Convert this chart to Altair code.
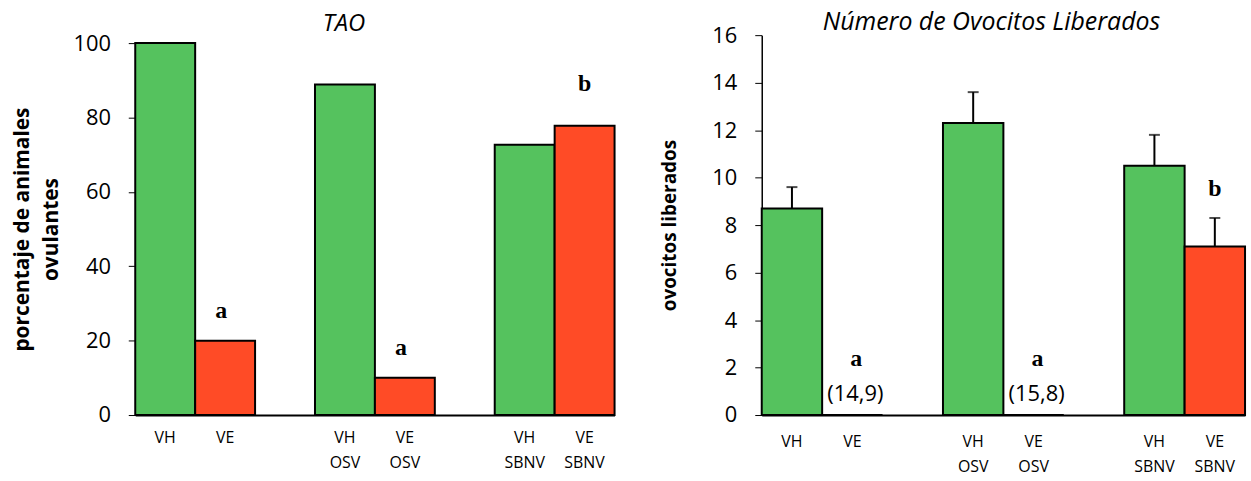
import altair as alt
import pandas as pd

# ---- data ----
slots = ["VH", "VE", " ", "VH|OSV", "VE|OSV", "  ", "VH|SBNV", "VE|SBNV"]
cats = ["VH", "VE", "VH|OSV", "VE|OSV", "VH|SBNV", "VE|SBNV"]
grupo = ["VH", "VE", "VH", "VE", "VH", "VE"]

tao_vals = [100, 20, 88.9, 10, 72.7, 77.8]
tao_letters = ["", "a", "", "a", "", "b"]

ovo_vals = [8.7, 0, 12.3, 0, 10.5, 7.1]
ovo_err = [0.9, None, 1.3, None, 1.3, 1.2]
ovo_letters = ["", "a", "", "a", "", "b"]
ovo_notes = ["", "(14,9)", "", "(15,8)", "", ""]

GREEN = "#55c25e"
RED = "#ff4b26"
FONT = "Open Sans"

tao = pd.DataFrame({"cat": cats, "grupo": grupo, "val": tao_vals, "letter": tao_letters})
ovo = pd.DataFrame({"cat": cats, "grupo": grupo, "val": ovo_vals, "err": ovo_err,
                    "letter": ovo_letters, "note": ovo_notes})
ovo["top"] = ovo["val"] + ovo["err"].fillna(0)

color = alt.Color("grupo:N", scale=alt.Scale(domain=["VH", "VE"], range=[GREEN, RED]), legend=None)


def xenc(pad):
    return alt.X("cat:N", sort=slots,
                 scale=alt.Scale(domain=slots, paddingInner=0, paddingOuter=0),
                 axis=alt.Axis(title=None, labelAngle=0, ticks=False, labelFontSize=16,
                               labelFont=FONT, labelColor="black", labelPadding=pad,
                               labelLineHeight=25, labelExpr="split(datum.label, '|')",
                               domainColor="black", domainWidth=2, labelBaseline="top"))


# ---- left panel ----
y_left = alt.Y("val:Q", scale=alt.Scale(domain=[0, 100], nice=False, rangeMax=8),
               axis=alt.Axis(values=[0, 20, 40, 60, 80, 100], grid=False, tickSize=7,
                             tickColor="black", domainColor="black", domainWidth=1.5,
                             labelFontSize=22, labelFont=FONT, labelColor="black",
                             labelPadding=18,
                             title=["porcentaje de animales", "ovulantes"],
                             titleFontSize=21, titleFont=FONT, titleFontWeight="bold",
                             titleColor="black", titleLineHeight=30, titlePadding=11))

bars_l = alt.Chart(tao).mark_bar(stroke="black", strokeWidth=2).encode(
    x=xenc(15), y=y_left, color=color)
let_a_l = alt.Chart(tao).transform_filter("datum.letter == 'a'").mark_text(
    font="Liberation Serif", fontWeight="bold", fontSize=24, baseline="middle", dy=-30, dx=-4,
    color="black").encode(x=alt.X("cat:N", sort=slots), y="val:Q", text="letter:N")
let_b_l = alt.Chart(tao).transform_filter("datum.letter == 'b'").mark_text(
    font="Liberation Serif", fontWeight="bold", fontSize=24, baseline="middle", dy=-42,
    color="black").encode(x=alt.X("cat:N", sort=slots), y="val:Q", text="letter:N")

left = alt.layer(bars_l, let_a_l, let_b_l).properties(
    width=482, height=382,
    title=alt.TitleParams("TAO", fontSize=24, font=FONT, fontStyle="italic",
                          fontWeight="normal", color="black", offset=-4, dx=-31))

# ---- right panel ----
y_right = alt.Y("val:Q", scale=alt.Scale(domain=[0, 16], nice=False),
                axis=alt.Axis(values=list(range(0, 17, 2)), grid=False, tickSize=7,
                              tickColor="black", domainColor="black", domainWidth=1.5,
                              labelFontSize=22, labelFont=FONT, labelColor="black",
                              labelPadding=18, title="ovocitos liberados",
                              titleFontSize=19, titleFont=FONT, titleFontWeight="bold",
                              titleColor="black", titlePadding=33))

bars_r = alt.Chart(ovo).mark_bar(stroke="black", strokeWidth=2).encode(
    x=xenc(19), y=y_right, color=color)
err_rule = alt.Chart(ovo).transform_filter("isValid(datum.err)").mark_rule(
    color="black", strokeWidth=2).encode(
    x=alt.X("cat:N", sort=slots), y="val:Q", y2="top:Q")
err_cap = alt.Chart(ovo).transform_filter("isValid(datum.err)").mark_tick(
    color="black", thickness=2, size=11).encode(
    x=alt.X("cat:N", sort=slots), y="top:Q")
let_a_r = alt.Chart(ovo).transform_filter("datum.letter == 'a'").mark_text(
    font="Liberation Serif", fontWeight="bold", fontSize=24, baseline="middle", dy=-56, dx=4,
    color="black").encode(x=alt.X("cat:N", sort=slots), y="top:Q", text="letter:N")
note_r = alt.Chart(ovo).transform_filter("datum.note != ''").mark_text(
    font=FONT, fontSize=22, baseline="middle", dy=-21, dx=3,
    color="black").encode(x=alt.X("cat:N", sort=slots), y="top:Q", text="note:N")
let_b_r = alt.Chart(ovo).transform_filter("datum.letter == 'b'").mark_text(
    font="Liberation Serif", fontWeight="bold", fontSize=24, baseline="middle", dy=-29,
    color="black").encode(x=alt.X("cat:N", sort=slots), y="top:Q", text="letter:N")

right = alt.layer(bars_r, err_rule, err_cap, let_a_r, note_r, let_b_r).properties(
    width=486, height=382,
    title=alt.TitleParams("Número de Ovocitos Liberados", fontSize=25, font=FONT,
                          fontStyle="italic", fontWeight="normal", color="black",
                          offset=-11, dx=-12))

chart = alt.hconcat(left, right, spacing=44).properties(
    padding={"left": 11, "top": 9, "right": 5, "bottom": 5}
).configure_view(stroke=None).configure_concat(spacing=44)

chart.save("out.html", embed_options={"renderer": "svg", "actions": False})
